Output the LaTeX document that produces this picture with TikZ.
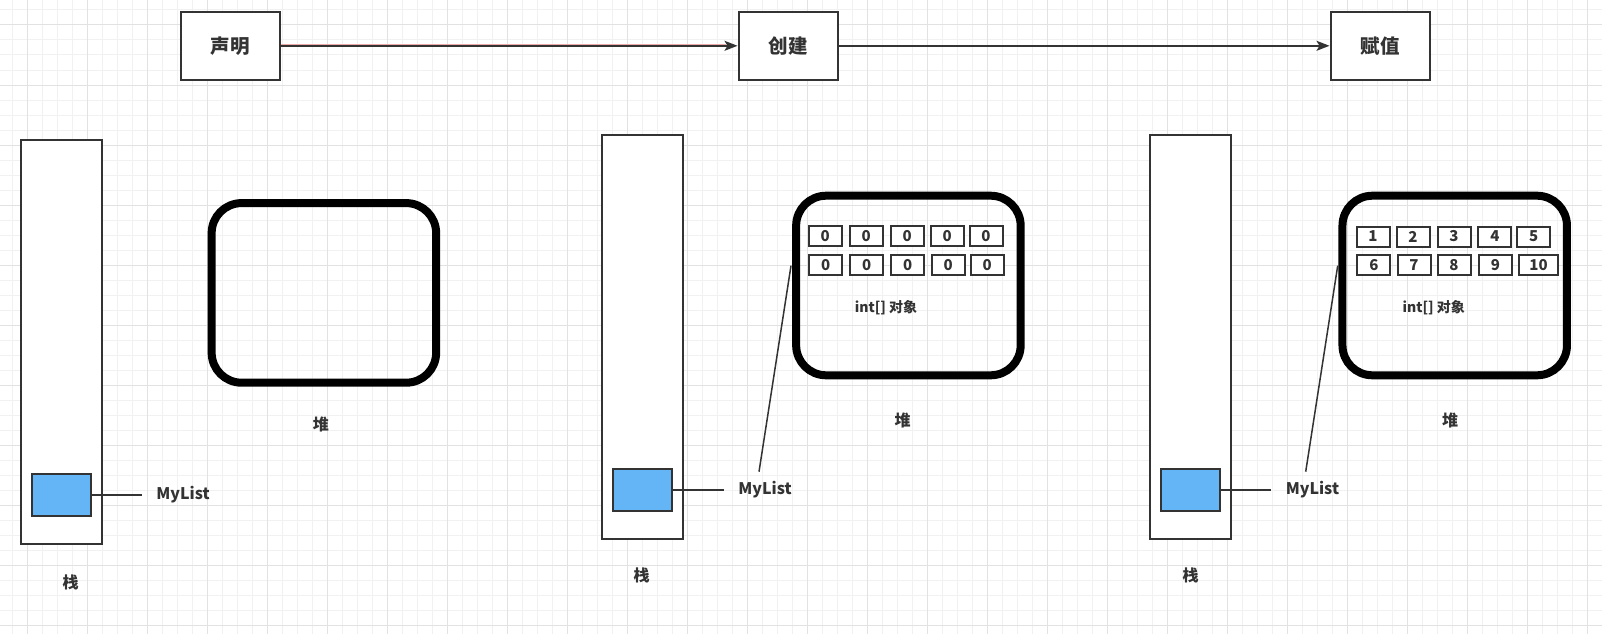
\documentclass[tikz,border=0pt]{standalone}
\usepackage{fontspec}
\setmainfont{Noto Sans CJK SC}
\usetikzlibrary{arrows.meta}
\definecolor{ink}{HTML}{333333}
\definecolor{gridminor}{HTML}{F1F1F1}
\definecolor{gridmajor}{HTML}{E2E2E2}
\definecolor{memblue}{HTML}{64B5F6}
\definecolor{glow}{HTML}{EBA8A8}
\begin{document}
\begin{tikzpicture}[x=1pt,y=-1pt,
  topbox/.style={draw=ink, line width=2pt, fill=white, minimum width=99pt, minimum height=68pt, inner sep=0pt, text=ink, font=\fontsize{19.5}{19.5}\selectfont\bfseries},
  stackbox/.style={draw=ink, line width=2pt, fill=white, minimum width=81.5pt, minimum height=404pt, inner sep=0pt},
  varbox/.style={draw=ink, line width=2pt, fill=memblue, minimum width=59pt, minimum height=42pt, inner sep=0pt},
  heapbox/.style={draw=black, line width=8pt, rounded corners=30pt, minimum width=224.5pt, minimum height=179.6pt, inner sep=0pt},
  cellbox/.style={draw=ink, line width=2pt, fill=white, minimum width=33pt, minimum height=20pt, inner sep=0pt, text=ink, font=\fontsize{15}{15}\selectfont\bfseries},
  lbl/.style={inner sep=0pt, text=ink, font=\fontsize{16}{16}\selectfont\bfseries},
  objlbl/.style={inner sep=0pt, text=ink, font=\fontsize{14}{14}\selectfont\bfseries},
  link/.style={draw=ink, line width=1.5pt},
  flow/.style={draw=ink, line width=1.6pt, -{Stealth[length=13pt,width=10pt,inset=3pt]}}
]
\useasboundingbox (0,0) rectangle (1602,634);
\fill[white] (0,0) rectangle (1602,634);
% grid
\foreach \i in {0,...,106} \draw[gridminor,line width=1pt] ({12.7+15*\i},0) -- ({12.7+15*\i},634);
\foreach \j in {0,...,41} \draw[gridminor,line width=1pt] (0,{10+15*\j}) -- (1602,{10+15*\j});
\foreach \i in {0,...,26} \draw[gridmajor,line width=1pt] ({27.7+60*\i},0) -- ({27.7+60*\i},634);
\foreach \j in {0,...,10} \draw[gridmajor,line width=1pt] (0,{25+60*\j}) -- (1602,{25+60*\j});

% top flow
\node[topbox] (decl) at (230,45.8) {声明};
\node[topbox] (create) at (788,45.8) {创建};
\node[topbox] (assign) at (1380,45.8) {赋值};
\draw[flow, preaction={draw=glow, line width=3.4pt, arrows=-, shorten >=12pt}] (decl.east) -- (create.west);
\draw[flow] (create.east) -- (assign.west);

% ---------- column 1 ----------
\node[stackbox] (stack1) at (61.5,342) {};
\node[varbox] (var1) at (61.5,494.8) {};
\coordinate (end1) at (141.7,494.8);
\draw[link] (var1.east) -- (end1);
\node[lbl, anchor=west] (ml1) at (156.2,494.8) {MyList};
\node[lbl] (st1) at (70.5,582.5) {栈};
\node[heapbox] (heap1) at (323.9,292.9) {};
\node[lbl] (hp1) at (320.8,424) {堆};

% ---------- column 2 ----------
\node[stackbox] (stack2) at (642.5,336.6) {};
\node[varbox] (var2) at (642.5,490) {};
\coordinate (end2) at (724,490);
\draw[link] (var2.east) -- (end2);
\node[lbl, anchor=west] (ml2) at (738.2,490) {MyList};
\node[lbl] (st2) at (641.6,575.5) {栈};
\node[heapbox] (heap2) at (908.4,285.5) {};
\node[lbl] (hp2) at (902.5,420) {堆};
\coordinate (d2a) at (759,471.7);
\coordinate (d2b) at (791,265.7);
\draw[link] (d2a) -- (d2b);
\foreach \x [count=\k] in {825.2,866.2,907.2,947.2,986.0}
  \node[cellbox] (c2a\k) at (\x,236.3) {0};
\foreach \x [count=\k] in {825.8,866.8,907.8,948.2,987.2}
  \node[cellbox] (c2b\k) at (\x,265.3) {0};
\node[objlbl] (obj2) at (886,307.3) {int[] 对象};

% ---------- column 3 ----------
\node[stackbox] (stack3) at (1190.5,337) {};
\node[varbox] (var3) at (1190.5,490) {};
\coordinate (end3) at (1270.7,490);
\draw[link] (var3.east) -- (end3);
\node[lbl, anchor=west] (ml3) at (1285.6,490) {MyList};
\node[lbl] (st3) at (1190.5,575.7) {栈};
\node[heapbox] (heap3) at (1454.7,285.5) {};
\node[lbl] (hp3) at (1450,420) {堆};
\coordinate (d3a) at (1305.7,471.7);
\coordinate (d3b) at (1337.7,265.7);
\draw[link] (d3a) -- (d3b);
\foreach \x/\v [count=\k] in {1373.0/1,1413.0/2,1454.0/3,1494.8/4,1533.7/5}
  \node[cellbox] (c3a\k) at (\x,236.5) {\v};
\foreach \x/\v [count=\k] in {1373.8/6,1414.0/7,1454.0/8,1495.5/9}
  \node[cellbox] (c3b\k) at (\x,265.4) {\v};
\node[cellbox, minimum width=39.6pt] (c3b5) at (1538.5,265.4) {10};
\node[objlbl] (obj3) at (1433.8,307.3) {int[] 对象};
\end{tikzpicture}
\end{document}
